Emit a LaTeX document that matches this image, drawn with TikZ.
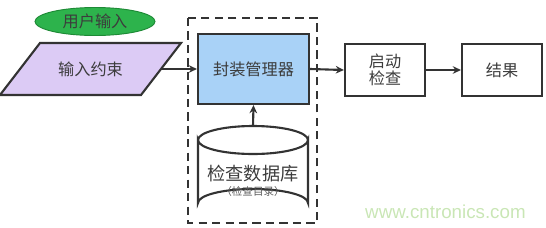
\documentclass[tikz,border=0pt]{standalone}
\usepackage{fontspec}
\setmainfont{Liberation Sans}
\newfontfamily\cjk{Noto Sans CJK SC}
\usetikzlibrary{arrows.meta,shapes.geometric}
\definecolor{txt}{HTML}{3C3C3C}
\definecolor{edge}{HTML}{333333}
\definecolor{bluefill}{HTML}{A9D2F7}
\definecolor{purplefill}{HTML}{DCCBF5}
\definecolor{greenfill}{HTML}{2DB34C}
\definecolor{greenedge}{HTML}{1E8A36}
\definecolor{wm}{HTML}{C9E6B5}
\tikzset{
  box/.style={draw=edge, line width=1.8pt, minimum width=80*0.3mm, minimum height=52*0.3mm, fill=white, text=txt, font=\cjk\fontsize{13.8}{16}\selectfont, align=center, inner sep=0pt},
  conn/.style={draw=edge, line width=1.8pt, -{Stealth[length=7pt,width=6.5pt]}},
}
\begin{document}
\begin{tikzpicture}[x=0.3mm,y=-0.3mm]
\useasboundingbox (0,0) rectangle (546,227);
% dashed container
\draw[edge, line width=1.9pt, dash pattern=on 7pt off 4.5pt] (188,18) rectangle (317,223);
% user input ellipse
\node[ellipse, draw=greenedge, fill=greenfill, line width=0.8pt, minimum width=120*0.3mm, minimum height=28*0.3mm, inner sep=0pt, text=txt, font=\cjk\fontsize{13.8}{16}\selectfont] (user) at (95,21.5) {用户输入};
% parallelogram
\path[draw=edge, fill=purplefill, line width=1.8pt] (40,43) -- (181,43) -- (141,95) -- (0,95) -- cycle;
\node[text=txt, font=\cjk\fontsize{13.8}{16}\selectfont, inner sep=0pt] (input) at (90.5,69) {输入约束};
\coordinate (inputR) at (161,69);
% package manager
\node[box, fill=bluefill, minimum width=111*0.3mm, minimum height=70*0.3mm] (pm) at (253.5,69) {封装管理器};
% cylinder
\path[draw=edge, fill=white, line width=1.8pt] (198,140) -- (198,203) arc[start angle=180, end angle=360, x radius=55, y radius=14] -- (308,140) arc[start angle=0, end angle=180, x radius=55, y radius=14] -- cycle;
\draw[edge, line width=1.8pt] (198,140) arc[start angle=180, end angle=360, x radius=55, y radius=14];
\coordinate (dbtop) at (253,126);
\node[text=txt, font=\cjk\fontsize{15.5}{18}\selectfont, inner sep=0pt] (db) at (253,174) {检查数据库};
\node[text=txt!85, font=\cjk\fontsize{9}{10}\selectfont, inner sep=0pt] (dbsub) at (253,191) {（检查目录）};
% start check and result
\node[box] (start) at (385,70) {启动\\[-2pt]检查};
\node[box] (result) at (502,70) {结果};
% connectors
\draw[conn] (inputR) -- (pm.west |- inputR);
\draw[conn] (dbtop) -- (pm.south);
\draw[conn] (pm.east) -- (start.west);
\draw[conn] (start.east) -- (result.west);
% watermark
\node[text=wm, font=\fontsize{16}{18}\selectfont, inner sep=0pt, anchor=west] (wmark) at (365,212) {www.cntronics.com};
\end{tikzpicture}
\end{document}
